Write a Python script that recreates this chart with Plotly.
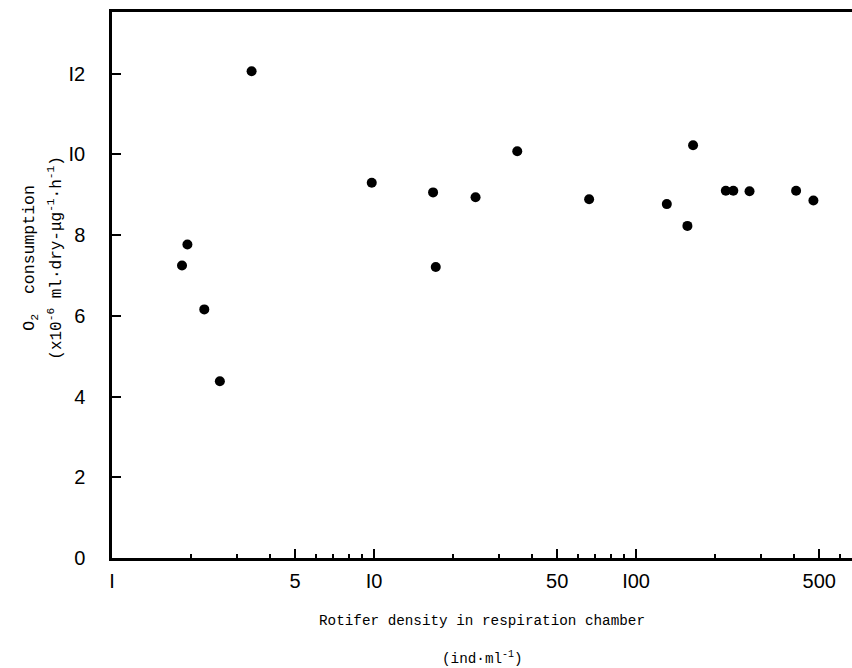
import plotly.graph_objects as go

density = [1.85, 1.94, 2.25, 2.58, 3.41, 9.8, 16.8, 17.2, 24.4, 35.2,
           66.2, 131, 157, 165, 220, 235, 271, 408, 475]
o2 = [7.25, 7.77, 6.16, 4.38, 12.06, 9.30, 9.06, 7.21, 8.94, 10.08,
      8.89, 8.77, 8.23, 10.23, 9.10, 9.10, 9.09, 9.10, 8.86]

x_tickvals = [1, 5, 10, 50, 100, 500]
x_ticktext = ["I", "5", "I0", "50", "I00", "500"]
x_minor = [2, 3, 4, 6, 7, 8, 9, 20, 30, 40, 60, 70, 80, 90, 200, 300, 400, 600]
y_tickvals = [0, 2, 4, 6, 8, 10, 12]
y_ticktext = ["0", "2", "4", "6", "8", "I0", "I2"]

fig = go.Figure()
fig.add_trace(go.Scatter(x=density, y=o2, mode="markers",
                         marker=dict(color="black", size=10),
                         showlegend=False, cliponaxis=False))

tickfont = dict(family="Liberation Sans, Arial, sans-serif", size=20, color="black")
mono = "Liberation Mono, DejaVu Sans Mono, monospace"

fig.update_layout(
    width=852, height=668,
    margin=dict(l=112, r=0, t=12, b=110),
    paper_bgcolor="white", plot_bgcolor="white",
    xaxis=dict(type="log", range=[0, 2.824],
               tickvals=x_tickvals, ticktext=x_ticktext,
               ticks="inside", ticklen=9, tickwidth=2, tickcolor="black",
               minor=dict(tickvals=x_minor, ticks="inside", ticklen=4,
                          tickwidth=2, tickcolor="black", showgrid=False),
               showline=True, linewidth=2.5, linecolor="black", mirror=True,
               showgrid=False, zeroline=False, tickfont=tickfont,
               ticklabelstandoff=3),
    yaxis=dict(range=[0, 13.53],
               tickvals=y_tickvals, ticktext=y_ticktext,
               ticks="inside", ticklen=9, tickwidth=2, tickcolor="black",
               showline=True, linewidth=2.5, linecolor="black",
               showgrid=False, zeroline=False, tickfont=tickfont,
               ticklabelstandoff=20),
    annotations=[
        dict(text="Rotifer density in respiration chamber", xref="paper", yref="paper",
             x=0.5, y=0, yshift=-73, yanchor="bottom", showarrow=False,
             font=dict(family=mono, size=14.3, color="black")),
        dict(text="(ind·ml<sup>-1</sup>)", xref="paper", yref="paper",
             x=0.5, y=0, yshift=-111, yanchor="bottom", showarrow=False,
             font=dict(family=mono, size=14.3, color="black")),
        dict(text="O<sub>2</sub>  consumption", xref="paper", yref="paper",
             x=0, y=0.55, xshift=-82, xanchor="center", yanchor="middle",
             textangle=-90, showarrow=False,
             font=dict(family=mono, size=16.5, color="black")),
        dict(text="(x10<sup>-6</sup> ml·dry-μg<sup>-1</sup>·h<sup>-1</sup>)", xref="paper", yref="paper",
             x=0, y=0.55, xshift=-56, xanchor="center", yanchor="middle",
             textangle=-90, showarrow=False,
             font=dict(family=mono, size=16, color="black")),
    ],
)

fig.write_html("out.html", config={"displayModeBar": False},
               post_script="document.body.style.margin='0';")
